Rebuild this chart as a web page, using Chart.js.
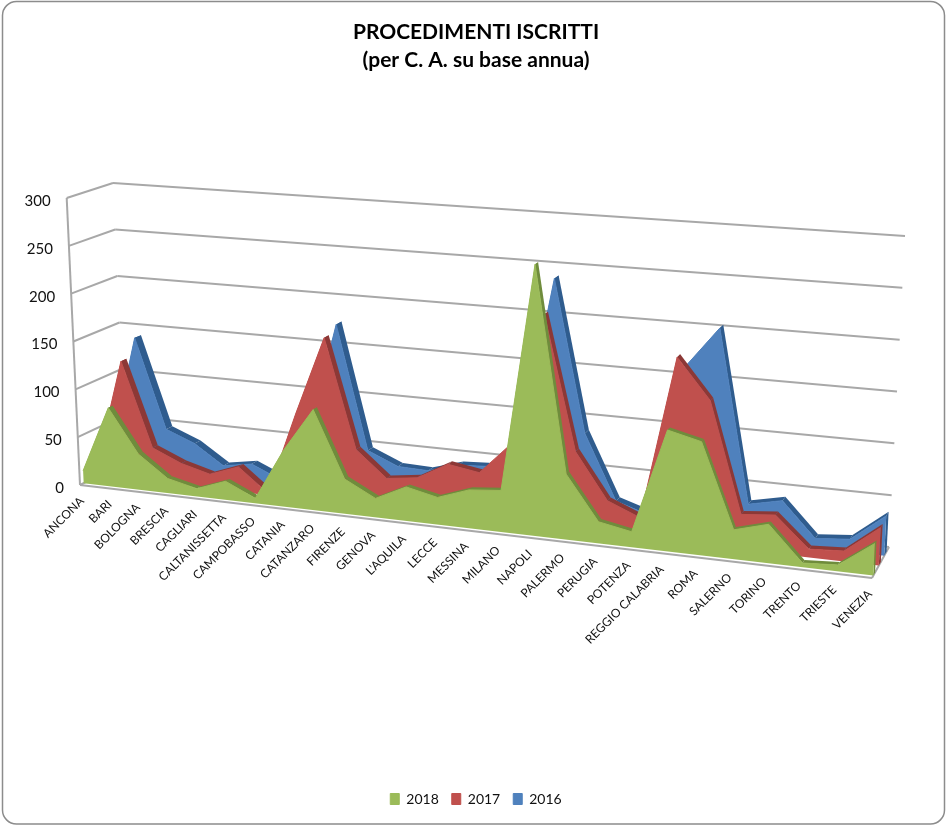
<!DOCTYPE html>
<html>
<head>
<meta charset="utf-8">
<title>Procedimenti iscritti</title>
<script src="https://cdn.jsdelivr.net/npm/chart.js@4"></script>
<style>
  html,body{margin:0;padding:0;background:#fff}
  canvas{display:block}
</style>
</head>
<body>
<canvas id="chart" width="946" height="825"></canvas>
<script>
const cats = ["ANCONA","BARI","BOLOGNA","BRESCIA","CAGLIARI","CALTANISSETTA","CAMPOBASSO","CATANIA","CATANZARO","FIRENZE","GENOVA","L'AQUILA","LECCE","MESSINA","MILANO","NAPOLI","PALERMO","PERUGIA","POTENZA","REGGIO CALABRIA","ROMA","SALERNO","TORINO","TRENTO","TRIESTE","VENEZIA"];
const v2018 = [13,82,37,15,8,19,5,58,102,35,19,34,27,38,41,267,64,21,15,117,109,28,37,4,6,30];
const v2017 = [14,124,36,23,15,26,2,87,168,57,31,35,52,47,79,211,78,33,20,180,141,34,37,8,10,36];
const v2016 = [25,142,48,36,16,21,8,58,175,48,35,34,43,45,73,240,88,24,14,163,204,35,42,9,12,38];

const font = "Lato, 'Liberation Sans', sans-serif";

// corners of the 3d box as seen in the picture [x,y]
const box = {
  f00:[80,485],  f01:[66.7,198], f10:[872,578], f11:[886,258],
  b00:[126,462], b01:[113,183],  b10:[889,547], b11:[905,236]
};
const persp = 0.12;
// depth of each series ribbon, same order as datasets
const depth = [[0.08,0.18],[0.40,0.52],[0.72,0.86]];
const shade = ["#6f8c3c","#8c3836","#2f5c8e"];

function mix(a,b,t){ return [a[0]+(b[0]-a[0])*t, a[1]+(b[1]-a[1])*t]; }

function project(u,v,d){
  const w = u*(1-persp)/(1-persp*u);
  const f = mix(mix(box.f00,box.f10,w), mix(box.f01,box.f11,w), v);
  const b = mix(mix(box.b00,box.b10,w), mix(box.b01,box.b11,w), v);
  return mix(f,b,d);
}

function normU(chart,px){ const a=chart.chartArea; return (px-a.left)/(a.right-a.left); }
function normV(chart,py){ const a=chart.chartArea; return (a.bottom-py)/(a.bottom-a.top); }

function poly(ctx,pts,color){
  ctx.beginPath();
  pts.forEach((p,i)=> i?ctx.lineTo(p[0],p[1]):ctx.moveTo(p[0],p[1]));
  ctx.closePath();
  ctx.fillStyle=color;
  ctx.fill();
}

function line3(ctx,a,b){
  ctx.beginPath();
  ctx.moveTo(a[0],a[1]);
  ctx.lineTo(b[0],b[1]);
  ctx.stroke();
}

const box3d = {
  id:"box3d",
  // move the points the scales placed on to the picture of the box
  afterDatasetsUpdate(chart){
    chart.data.datasets.forEach((ds,i)=>{
      const meta=chart.getDatasetMeta(i);
      meta.data.forEach(pt=>{
        const p=project(normU(chart,pt.x),normV(chart,pt.y),depth[i][0]);
        pt.$u=normU(chart,pt.x); pt.$v=normV(chart,pt.y);
        pt.x=p[0]; pt.y=p[1];
      });
    });
  },
  beforeDraw(chart){
    const ctx=chart.ctx;
    ctx.save();
    ctx.beginPath();
    ctx.roundRect(2.5,1.5,942,822.5,14);
    ctx.strokeStyle="#8c8c8c";
    ctx.lineWidth=1.5;
    ctx.stroke();
    ctx.restore();
  },
  beforeDatasetsDraw(chart){
    const ctx=chart.ctx, y=chart.scales.y, x=chart.scales.x;
    ctx.save();
    ctx.strokeStyle="#a8a8a8";
    ctx.lineWidth=2;
    y.ticks.forEach(t=>{
      const v=normV(chart,y.getPixelForValue(t.value));
      line3(ctx,project(0,v,0),project(0,v,1));
      line3(ctx,project(0,v,1),project(1,v,1));
    });
    line3(ctx,project(0,0,0),project(0,1,0));
    line3(ctx,project(0,0,0),project(1,0,0));
    line3(ctx,project(1,0,0),project(1,0,1));
    // tick labels
    ctx.fillStyle="#111";
    ctx.font="15px "+font;
    ctx.textAlign="right";
    ctx.textBaseline="middle";
    y.ticks.forEach(t=>{
      const p=project(0,normV(chart,y.getPixelForValue(t.value)),0);
      ctx.fillText(t.label,p[0]-16,p[1]+3);
    });
    ctx.font="12px "+font;
    cats.forEach((c,i)=>{
      const u=normU(chart,x.getPixelForValue(i));
      const p=project(u,0,0);
      ctx.save();
      ctx.translate(p[0]+2-4*u,p[1]+14);
      ctx.rotate(-Math.PI/4);
      ctx.fillText(c,0,0);
      ctx.restore();
    });
    ctx.restore();
  },
  beforeDatasetDraw(chart,args){
    const i=args.index, meta=args.meta, ctx=chart.ctx, d=depth[i], pts=meta.data;
    const color=chart.data.datasets[i].backgroundColor;
    const back=pts.map(p=>project(p.$u,p.$v,d[1]));
    const front=pts.map(p=>[p.x,p.y]);
    // top surface of the ribbon
    for(let k=0;k<pts.length-1;k++){
      poly(ctx,[front[k],front[k+1],back[k+1],back[k]],shade[i]);
    }
    // end cap on the right
    const last=pts[pts.length-1];
    poly(ctx,[front[front.length-1],back[back.length-1],project(1,0,d[1]),project(1,0,d[0])],shade[i]);
    // front face
    poly(ctx,[project(pts[0].$u,0,d[0])].concat(front,[project(last.$u,0,d[0])]),color);
  }
};

const chart = new Chart(document.querySelector("#chart"),{
  type:"line",
  data:{
    labels:cats,
    datasets:[
      {label:"2018",data:v2018,backgroundColor:"#9bbb59",borderColor:"#9bbb59"},
      {label:"2017",data:v2017,backgroundColor:"#c0504d",borderColor:"#c0504d"},
      {label:"2016",data:v2016,backgroundColor:"#4f81bd",borderColor:"#4f81bd"}
    ]
  },
  options:{
    responsive:false,
    animation:false,
    events:[],
    clip:false,
    layout:{padding:{top:4,bottom:9,left:6}},
    elements:{point:{radius:0},line:{borderWidth:1,tension:0,fill:false}},
    scales:{
      x:{ticks:{display:false},grid:{display:false},border:{display:false}},
      y:{min:0,max:300,ticks:{display:false,stepSize:50},grid:{display:false},border:{display:false}}
    },
    plugins:{
      title:{display:true,text:["PROCEDIMENTI ISCRITTI","(per C. A. su base annua)"],color:"#000",
        font:{family:font,size:21,weight:"bold",lineHeight:1.333},padding:{top:14,bottom:10}},
      legend:{position:"bottom",labels:{boxWidth:9,boxHeight:11,color:"#111",font:{family:font,size:14},padding:13}},
      tooltip:{enabled:false}
    }
  },
  plugins:[box3d]
});
</script>
</body>
</html>
